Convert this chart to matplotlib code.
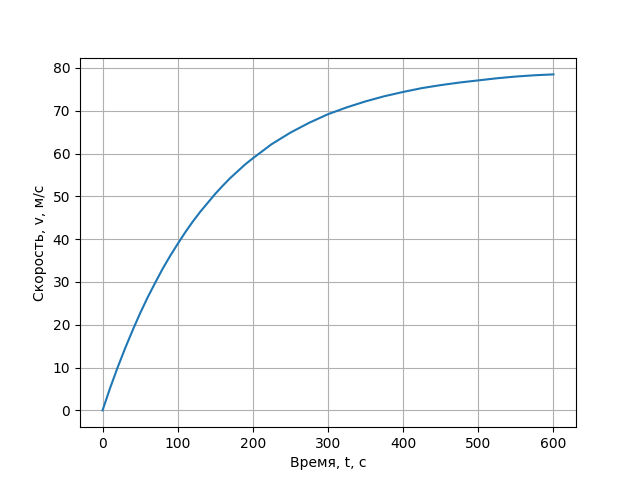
import matplotlib
matplotlib.use("Agg")
import matplotlib.pyplot as plt

# время, с
t = [0, 10, 20, 30, 40, 50, 60, 70, 80, 90, 100, 110, 120, 130, 140, 150,
     160, 170, 180, 190, 200, 225, 250, 275, 300,
     325, 350, 375, 400, 425, 450, 475, 500, 525, 550, 575, 600]
# скорость, м/с
v = [0.0, 5.2, 10.0, 14.5, 18.7, 22.7, 26.4, 29.8, 33.1, 36.1, 38.9, 41.6, 44.1,
     46.4, 48.5, 50.6, 52.5, 54.3, 55.9, 57.5, 58.9, 62.2, 64.9, 67.2, 69.2,
     70.8, 72.2, 73.4, 74.4, 75.3, 76.0, 76.6, 77.1, 77.6, 78.0, 78.3, 78.5]

fig, ax = plt.subplots(figsize=(6.4, 4.8), dpi=100)
ax.plot(t, v)
ax.set_xlabel("Время, t, с")
ax.set_ylabel("Скорость, v, м/с")
ax.grid(True)

plt.savefig("out.png", dpi=100)
plt.close()
